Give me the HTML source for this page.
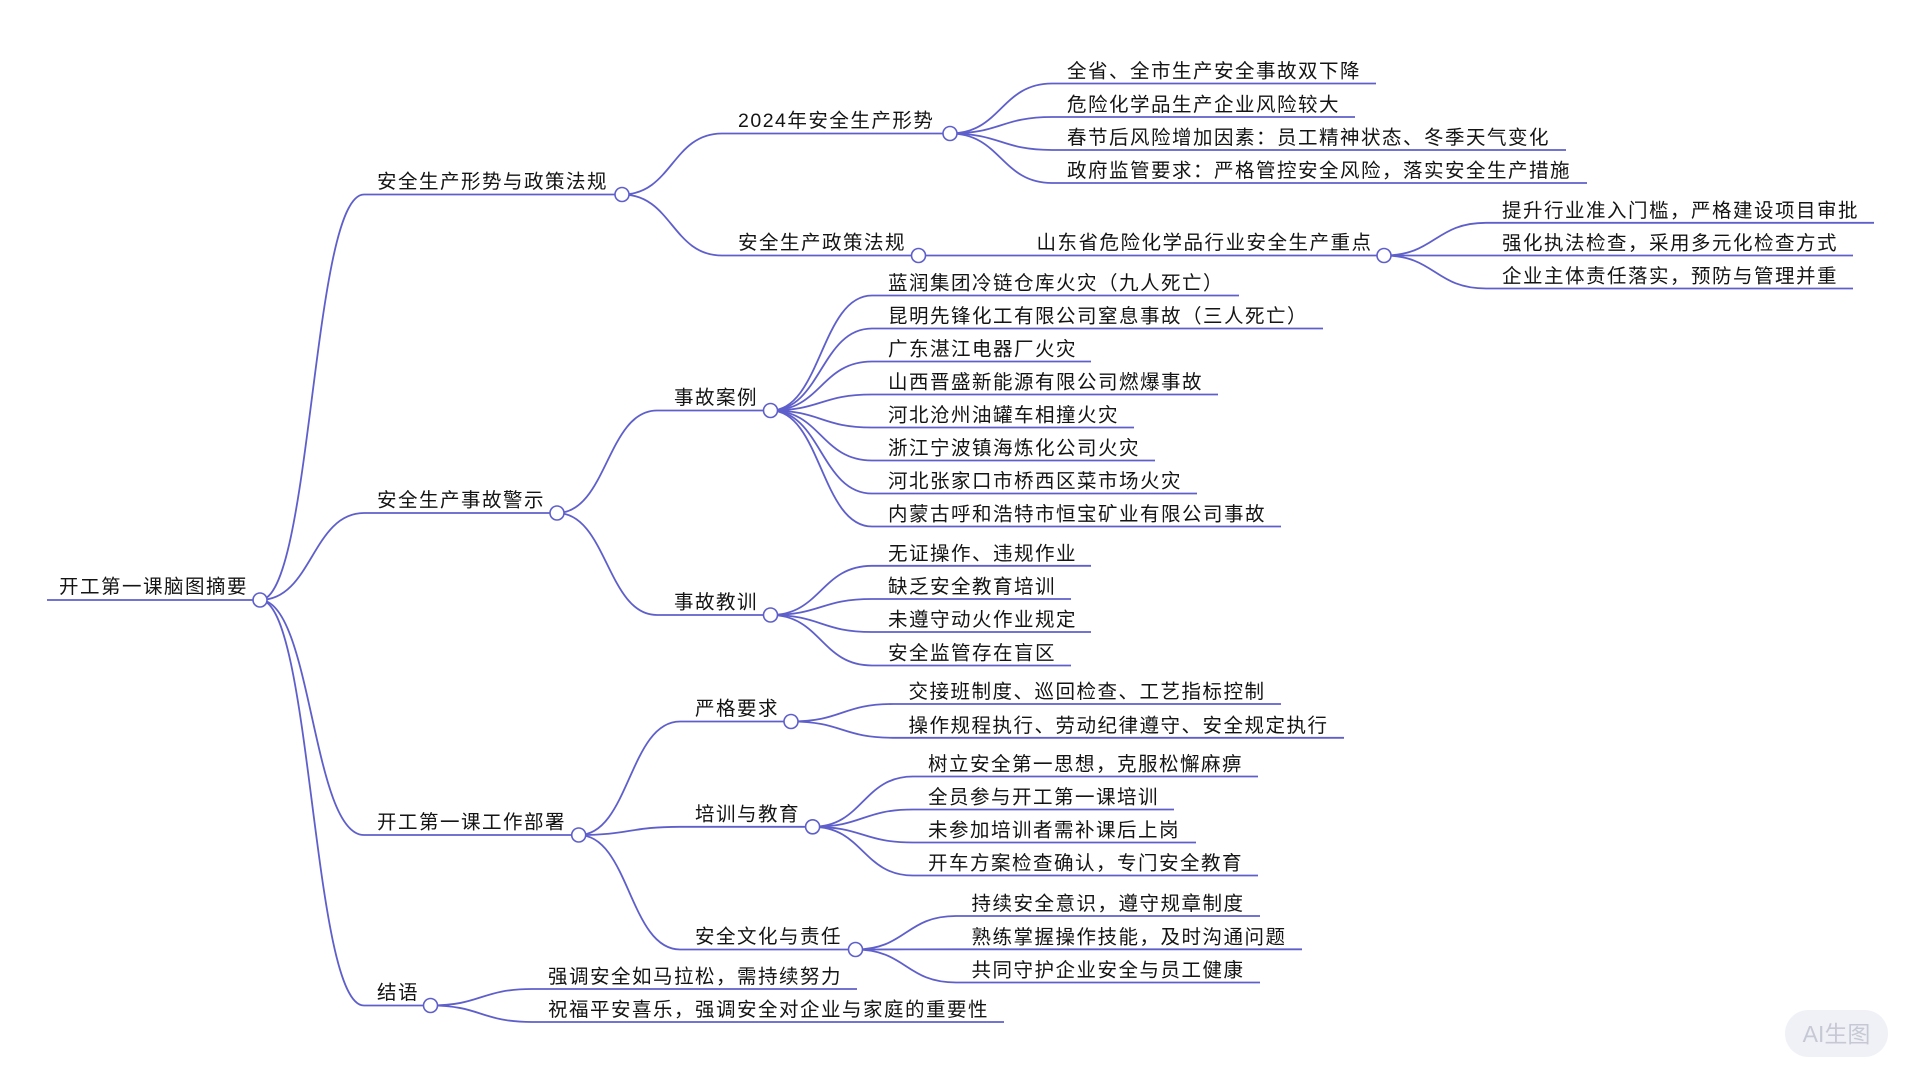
<!DOCTYPE html>
<html>
<head>
<meta charset="utf-8">
<style>
  html, body { margin: 0; padding: 0; background: #ffffff; }
  body { width: 1920px; height: 1080px; overflow: hidden; }
  svg { display: block; }
  .t { font-family: "Liberation Sans", "Noto Sans CJK SC", sans-serif; font-size: 19.5px; letter-spacing: 1.5px; fill: #141414; }
  .l { stroke: #5f5fcc; stroke-width: 1.8; fill: none; }
  .c { stroke: #5f5fcc; stroke-width: 1.6; fill: #ffffff; }
  .wm { font-family: "Liberation Sans", "Noto Sans CJK SC", sans-serif; font-size: 23px; fill: #c6c8d4; }
</style>
</head>
<body>
<svg width="1920" height="1080" viewBox="0 0 1920 1080" xmlns="http://www.w3.org/2000/svg">
  <!-- ===== Links ===== -->
  <g class="l">
    <path d="M260,600 C312,600 312,194.5 364,194.5"/>
    <path d="M260,600 C312,600 312,513 364,513"/>
    <path d="M260,600 C312,600 312,835 364,835"/>
    <path d="M260,600 C312,600 312,1005.5 364,1005.5"/>

    <path d="M622,194.5 C672,194.5 672,133.5 722,133.5"/>
    <path d="M622,194.5 C672,194.5 672,255.5 722,255.5"/>

    <path d="M950,133.5 C1001,133.5 1001,83.5 1052,83.5"/>
    <path d="M950,133.5 C1001,133.5 1001,117 1052,117"/>
    <path d="M950,133.5 C1001,133.5 1001,150 1052,150"/>
    <path d="M950,133.5 C1001,133.5 1001,183 1052,183"/>

    <path d="M918.5,255.5 L1020,255.5"/>

    <path d="M1384,255.5 C1435,255.5 1435,222.8 1486,222.8"/>
    <path d="M1384,255.5 L1486,255.5"/>
    <path d="M1384,255.5 C1435,255.5 1435,288.5 1486,288.5"/>

    <path d="M557,513 C607,513 607,410.5 657,410.5"/>
    <path d="M557,513 C607,513 607,615 657,615"/>

    <path d="M770.5,410.5 C821,410.5 821,295.5 872,295.5"/>
    <path d="M770.5,410.5 C821,410.5 821,328.5 872,328.5"/>
    <path d="M770.5,410.5 C821,410.5 821,361.5 872,361.5"/>
    <path d="M770.5,410.5 C821,410.5 821,394.5 872,394.5"/>
    <path d="M770.5,410.5 C821,410.5 821,427.5 872,427.5"/>
    <path d="M770.5,410.5 C821,410.5 821,460.5 872,460.5"/>
    <path d="M770.5,410.5 C821,410.5 821,493.5 872,493.5"/>
    <path d="M770.5,410.5 C821,410.5 821,526.5 872,526.5"/>

    <path d="M770.5,615 C821,615 821,565.8 872,565.8"/>
    <path d="M770.5,615 C821,615 821,599 872,599"/>
    <path d="M770.5,615 C821,615 821,632 872,632"/>
    <path d="M770.5,615 C821,615 821,665.5 872,665.5"/>

    <path d="M578.7,835 C629.3,835 629.3,721.5 680,721.5"/>
    <path d="M578.7,835 C629.3,835 629.3,826.8 680,826.8"/>
    <path d="M578.7,835 C629.3,835 629.3,949.5 680,949.5"/>

    <path d="M791,721.5 C842,721.5 842,704 893,704"/>
    <path d="M791,721.5 C842,721.5 842,737.8 893,737.8"/>

    <path d="M812.6,826.8 C862.8,826.8 862.8,776.5 913,776.5"/>
    <path d="M812.6,826.8 C862.8,826.8 862.8,809.5 913,809.5"/>
    <path d="M812.6,826.8 C862.8,826.8 862.8,842.5 913,842.5"/>
    <path d="M812.6,826.8 C862.8,826.8 862.8,875.5 913,875.5"/>

    <path d="M855.5,949.5 C905.7,949.5 905.7,916 956,916"/>
    <path d="M855.5,949.5 C905.7,949.5 905.7,949.3 956,949.3"/>
    <path d="M855.5,949.5 C905.7,949.5 905.7,982.5 956,982.5"/>

    <path d="M430.5,1005.5 C481,1005.5 481,989 532,989"/>
    <path d="M430.5,1005.5 C481,1005.5 481,1022 532,1022"/>
  </g>

  <!-- ===== Underlines ===== -->
  <g class="l">
    <line x1="47" y1="600" x2="260" y2="600"/>
    <line x1="364" y1="194.5" x2="622" y2="194.5"/>
    <line x1="364" y1="513" x2="557" y2="513"/>
    <line x1="364" y1="835" x2="578.7" y2="835"/>
    <line x1="364" y1="1005.5" x2="430.5" y2="1005.5"/>

    <line x1="722" y1="133.5" x2="950" y2="133.5"/>
    <line x1="722" y1="255.5" x2="918.5" y2="255.5"/>
    <line x1="1020" y1="255.5" x2="1384" y2="255.5"/>

    <line x1="1052" y1="83.5" x2="1376" y2="83.5"/>
    <line x1="1052" y1="117" x2="1355" y2="117"/>
    <line x1="1052" y1="150" x2="1566" y2="150"/>
    <line x1="1052" y1="183" x2="1587" y2="183"/>

    <line x1="1486" y1="222.8" x2="1874" y2="222.8"/>
    <line x1="1486" y1="255.5" x2="1853" y2="255.5"/>
    <line x1="1486" y1="288.5" x2="1853" y2="288.5"/>

    <line x1="657" y1="410.5" x2="770.5" y2="410.5"/>
    <line x1="657" y1="615" x2="770.5" y2="615"/>

    <line x1="872" y1="295.5" x2="1239" y2="295.5"/>
    <line x1="872" y1="328.5" x2="1323" y2="328.5"/>
    <line x1="872" y1="361.5" x2="1091" y2="361.5"/>
    <line x1="872" y1="394.5" x2="1218" y2="394.5"/>
    <line x1="872" y1="427.5" x2="1134" y2="427.5"/>
    <line x1="872" y1="460.5" x2="1155" y2="460.5"/>
    <line x1="872" y1="493.5" x2="1197" y2="493.5"/>
    <line x1="872" y1="526.5" x2="1281" y2="526.5"/>

    <line x1="872" y1="565.8" x2="1091" y2="565.8"/>
    <line x1="872" y1="599" x2="1071" y2="599"/>
    <line x1="872" y1="632" x2="1091" y2="632"/>
    <line x1="872" y1="665.5" x2="1071" y2="665.5"/>

    <line x1="680" y1="721.5" x2="791" y2="721.5"/>
    <line x1="680" y1="826.8" x2="812.6" y2="826.8"/>
    <line x1="680" y1="949.5" x2="855.5" y2="949.5"/>

    <line x1="893" y1="704" x2="1281" y2="704"/>
    <line x1="893" y1="737.8" x2="1344" y2="737.8"/>

    <line x1="913" y1="776.5" x2="1258" y2="776.5"/>
    <line x1="913" y1="809.5" x2="1174" y2="809.5"/>
    <line x1="913" y1="842.5" x2="1196" y2="842.5"/>
    <line x1="913" y1="875.5" x2="1258" y2="875.5"/>

    <line x1="956" y1="916" x2="1260" y2="916"/>
    <line x1="956" y1="949.3" x2="1302" y2="949.3"/>
    <line x1="956" y1="982.5" x2="1260" y2="982.5"/>

    <line x1="532" y1="989" x2="857" y2="989"/>
    <line x1="532" y1="1022" x2="1004" y2="1022"/>
  </g>

  <!-- ===== Circles ===== -->
  <g class="c">
    <circle cx="260" cy="600" r="7"/>
    <circle cx="622" cy="194.5" r="7"/>
    <circle cx="557" cy="513" r="7"/>
    <circle cx="578.7" cy="835" r="7"/>
    <circle cx="430.5" cy="1005.5" r="7"/>
    <circle cx="950" cy="133.5" r="7"/>
    <circle cx="918.5" cy="255.5" r="7"/>
    <circle cx="1384" cy="255.5" r="7"/>
    <circle cx="770.5" cy="410.5" r="7"/>
    <circle cx="770.5" cy="615" r="7"/>
    <circle cx="791" cy="721.5" r="7"/>
    <circle cx="812.6" cy="826.8" r="7"/>
    <circle cx="855.5" cy="949.5" r="7"/>
  </g>

  <!-- ===== Text ===== -->
  <g class="t">
    <text x="59" y="593">开工第一课脑图摘要</text>

    <text x="377" y="188">安全生产形势与政策法规</text>
    <text x="377" y="506.5">安全生产事故警示</text>
    <text x="377" y="828.5">开工第一课工作部署</text>
    <text x="377" y="999">结语</text>

    <text x="738" y="127">2024年安全生产形势</text>
    <text x="738" y="249">安全生产政策法规</text>
    <text x="1036.5" y="249">山东省危险化学品行业安全生产重点</text>

    <text x="1067" y="77.5">全省、全市生产安全事故双下降</text>
    <text x="1067" y="111">危险化学品生产企业风险较大</text>
    <text x="1067" y="144">春节后风险增加因素：员工精神状态、冬季天气变化</text>
    <text x="1067" y="177">政府监管要求：严格管控安全风险，落实安全生产措施</text>

    <text x="1502" y="216.8">提升行业准入门槛，严格建设项目审批</text>
    <text x="1502" y="249.5">强化执法检查，采用多元化检查方式</text>
    <text x="1502" y="282.5">企业主体责任落实，预防与管理并重</text>

    <text x="674" y="404">事故案例</text>
    <text x="674" y="608.5">事故教训</text>

    <text x="888" y="289.5">蓝润集团冷链仓库火灾（九人死亡）</text>
    <text x="888" y="322.5">昆明先锋化工有限公司窒息事故（三人死亡）</text>
    <text x="888" y="355.5">广东湛江电器厂火灾</text>
    <text x="888" y="388.5">山西晋盛新能源有限公司燃爆事故</text>
    <text x="888" y="421.5">河北沧州油罐车相撞火灾</text>
    <text x="888" y="454.5">浙江宁波镇海炼化公司火灾</text>
    <text x="888" y="487.5">河北张家口市桥西区菜市场火灾</text>
    <text x="888" y="520.5">内蒙古呼和浩特市恒宝矿业有限公司事故</text>

    <text x="888" y="559.8">无证操作、违规作业</text>
    <text x="888" y="593">缺乏安全教育培训</text>
    <text x="888" y="626">未遵守动火作业规定</text>
    <text x="888" y="659.5">安全监管存在盲区</text>

    <text x="695" y="715">严格要求</text>
    <text x="695" y="820.3">培训与教育</text>
    <text x="695" y="943">安全文化与责任</text>

    <text x="908.5" y="698">交接班制度、巡回检查、工艺指标控制</text>
    <text x="908.5" y="731.8">操作规程执行、劳动纪律遵守、安全规定执行</text>

    <text x="928" y="770.5">树立安全第一思想，克服松懈麻痹</text>
    <text x="928" y="803.5">全员参与开工第一课培训</text>
    <text x="928" y="836.5">未参加培训者需补课后上岗</text>
    <text x="928" y="869.5">开车方案检查确认，专门安全教育</text>

    <text x="971.5" y="910">持续安全意识，遵守规章制度</text>
    <text x="971.5" y="943.3">熟练掌握操作技能，及时沟通问题</text>
    <text x="971.5" y="976.5">共同守护企业安全与员工健康</text>

    <text x="548" y="983">强调安全如马拉松，需持续努力</text>
    <text x="548" y="1016">祝福平安喜乐，强调安全对企业与家庭的重要性</text>
  </g>

  <!-- ===== Watermark ===== -->
  <rect x="1785" y="1010" width="103" height="47" rx="23.5" ry="23.5" fill="#f0f1f6"/>
  <text class="wm" x="1836.5" y="1042" text-anchor="middle">AI生图</text>
</svg>
</body>
</html>
